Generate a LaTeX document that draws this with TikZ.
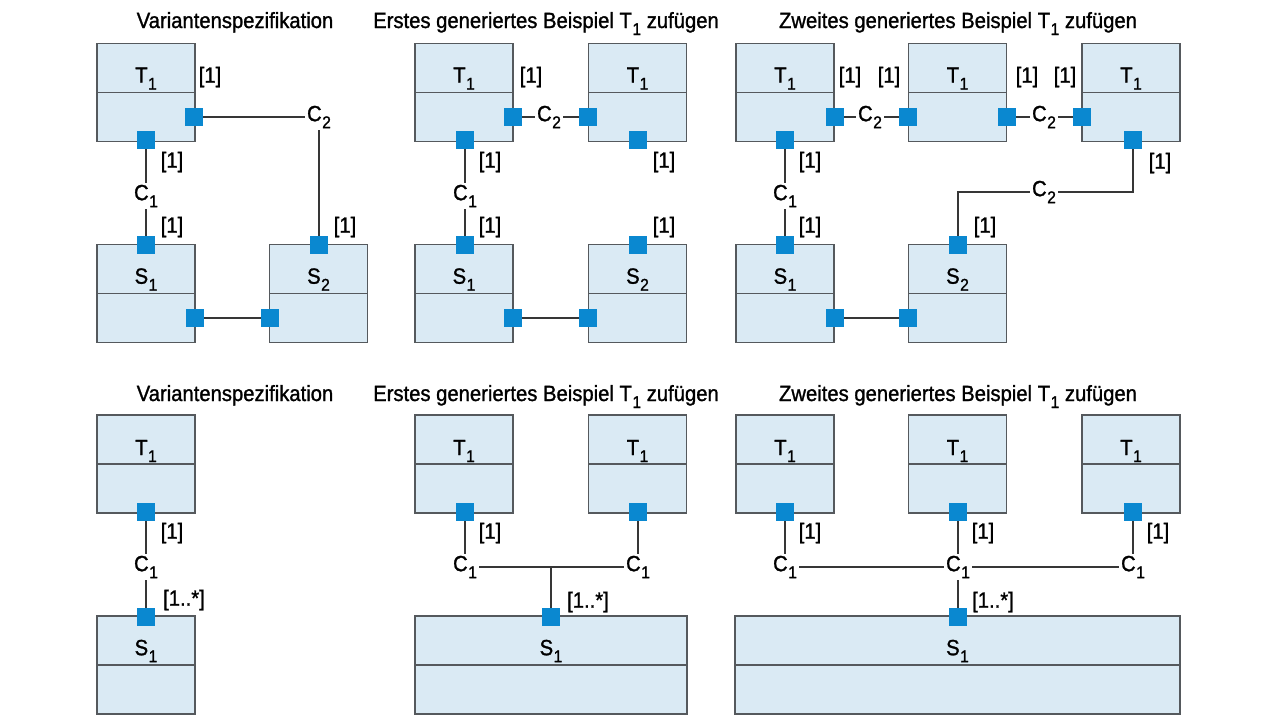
\documentclass[tikz,border=0pt]{standalone}
\usepackage{fontspec}
\setmainfont{Liberation Sans}[FakeStretch=0.92, FakeBold=1.2]
\usetikzlibrary{positioning}

\definecolor{boxfill}{HTML}{DAEAF4}
\definecolor{boxline}{HTML}{55595D}
\definecolor{portblue}{HTML}{0A88D0}
\definecolor{wirec}{HTML}{363636}
\newcommand{\ix}[2]{#1\kern0.5pt\raisebox{-7pt}{\fontsize{17}{17}\selectfont #2}}

\tikzset{
  klasse/.style={draw=boxline, fill=boxfill, line width=1.7pt,
    minimum width=98pt, minimum height=98pt, inner sep=0pt,
    path picture={\draw[boxline, line width=1.7pt] (path picture bounding box.west) -- (path picture bounding box.east);}},
  port/.style={fill=portblue, minimum size=18pt, inner sep=0pt},
  wire/.style={draw=wirec, line width=1.8pt},
  cname/.style={inner sep=2pt},
  mult/.style={inner sep=1pt},
  titel/.style={inner sep=0pt, anchor=base}
}

\begin{document}
\begin{tikzpicture}[x=1pt, y=-1pt, font=\fontsize{22}{26}\selectfont]
	\useasboundingbox (0,0) rectangle (1280,721);
	
	% ----- oben: Variantenspezifikation -----
	\node[titel] (a-title) at (235,28) {Variantenspezifikation};
	\node[klasse, label={[yshift=14pt]center:\ix{T}{1}}] (a-t1) at (146,92.5) {};
	\node[klasse, label={[yshift=14pt]center:\ix{S}{1}}] (a-s1) at (146,293.5) {};
	\node[klasse, label={[yshift=14pt]center:\ix{S}{2}}] (a-s2) at (318.5,293.5) {};
	
	% Ports
	\node[port] (a-t1r) at (194,117) {};
	\node[port] (a-t1b) at (146,140) {};
	\node[port] (a-s1t) at (146,245) {};
	\node[port] (a-s1r) at (195,318) {};
	\node[port] (a-s2l) at (270,318) {};
	\node[port] (a-s2t) at (319,245) {};
	
	% Verbindungen
	\node[cname] (a-c1) at (146,196) {\ix{C}{1}};
	\node[cname] (a-c2) at (319,117) {\ix{C}{2}};
	\draw[wire] (a-t1r) -- (a-c2) -- (a-s2t);
	\draw[wire] (a-t1b) -- (a-c1) -- (a-s1t);
	\draw[wire] (a-s1r) -- (a-s2l);
	
	% Multiplizitaeten
	\node[mult] (a-m1) at (210,77) {[1]};
	\node[mult] (a-m2) at (172,162) {[1]};
	\node[mult] (a-m3) at (172,227) {[1]};
	\node[mult] (a-m4) at (345,227) {[1]};
	
	% ----- oben: Erstes generiertes Beispiel -----
	\node[titel] (b-title) at (546,28) {Erstes generiertes Beispiel \ix{T}{1} zufügen};
	\node[klasse, label={[yshift=14pt]center:\ix{T}{1}}] (b-t1a) at (464,92.5) {};
	\node[klasse, label={[yshift=14pt]center:\ix{T}{1}}] (b-t1b) at (637.5,92.5) {};
	\node[klasse, label={[yshift=14pt]center:\ix{S}{1}}] (b-s1) at (464,293.5) {};
	\node[klasse, label={[yshift=14pt]center:\ix{S}{2}}] (b-s2) at (637.5,293.5) {};
	
	% Ports
	\node[port] (b-t1ar) at (513,117) {};
	\node[port] (b-t1ab) at (465,140) {};
	\node[port] (b-t1bl) at (588,117) {};
	\node[port] (b-t1bb) at (638,140) {};
	\node[port] (b-s1t) at (465,245) {};
	\node[port] (b-s1r) at (513,318) {};
	\node[port] (b-s2l) at (588,318) {};
	\node[port] (b-s2t) at (638,245) {};
	
	% Verbindungen
	\node[cname] (b-c1) at (465,196) {\ix{C}{1}};
	\node[cname] (b-c2) at (549,117) {\ix{C}{2}};
	\draw[wire] (b-t1ar) -- (b-c2) -- (b-t1bl);
	\draw[wire] (b-t1ab) -- (b-c1) -- (b-s1t);
	\draw[wire] (b-s1r) -- (b-s2l);
	
	% Multiplizitaeten
	\node[mult] (b-m1) at (531,77) {[1]};
	\node[mult] (b-m2) at (490,162) {[1]};
	\node[mult] (b-m3) at (490,227) {[1]};
	\node[mult] (b-m4) at (664,162) {[1]};
	\node[mult] (b-m5) at (664,227) {[1]};
	
	% ----- oben: Zweites generiertes Beispiel -----
	\node[titel] (c-title) at (958,28) {Zweites generiertes Beispiel \ix{T}{1} zufügen};
	\node[klasse, label={[yshift=14pt]center:\ix{T}{1}}] (c-t1a) at (785,92.5) {};
	\node[klasse, label={[yshift=14pt]center:\ix{T}{1}}] (c-t1b) at (957.5,92.5) {};
	\node[klasse, label={[yshift=14pt]center:\ix{T}{1}}] (c-t1c) at (1131,92.5) {};
	\node[klasse, label={[yshift=14pt]center:\ix{S}{1}}] (c-s1) at (785,293.5) {};
	\node[klasse, label={[yshift=14pt]center:\ix{S}{2}}] (c-s2) at (957.5,293.5) {};
	
	% Ports
	\node[port] (c-t1ar) at (835,117) {};
	\node[port] (c-t1ab) at (785,140) {};
	\node[port] (c-t1bl) at (908,117) {};
	\node[port] (c-t1br) at (1007,117) {};
	\node[port] (c-t1cl) at (1082,117) {};
	\node[port] (c-t1cb) at (1133,140) {};
	\node[port] (c-s1t) at (785,245) {};
	\node[port] (c-s1r) at (835,318) {};
	\node[port] (c-s2l) at (908,318) {};
	\node[port] (c-s2t) at (958,245) {};
	
	% Verbindungen
	\node[cname] (c-c1) at (785,196) {\ix{C}{1}};
	\node[cname] (c-c2a) at (870,117) {\ix{C}{2}};
	\node[cname] (c-c2b) at (1044,117) {\ix{C}{2}};
	\node[cname] (c-c2c) at (1044,192) {\ix{C}{2}};
	\draw[wire] (c-t1ar) -- (c-c2a) -- (c-t1bl);
	\draw[wire] (c-t1br) -- (c-c2b) -- (c-t1cl);
	\draw[wire] (c-t1cb) |- (c-c2c);
	\draw[wire] (c-c2c) -| (c-s2t);
	\draw[wire] (c-t1ab) -- (c-c1) -- (c-s1t);
	\draw[wire] (c-s1r) -- (c-s2l);
	
	% Multiplizitaeten
	\node[mult] (c-m1) at (850,77) {[1]};
	\node[mult] (c-m2) at (889,77) {[1]};
	\node[mult] (c-m3) at (1027,77) {[1]};
	\node[mult] (c-m4) at (1065,77) {[1]};
	\node[mult] (c-m5) at (810,162) {[1]};
	\node[mult] (c-m6) at (810,227) {[1]};
	\node[mult] (c-m7) at (1160,163) {[1]};
	\node[mult] (c-m8) at (985,227) {[1]};
	
	% ----- unten: Variantenspezifikation -----
	\node[titel] (d-title) at (235,401) {Variantenspezifikation};
	\node[klasse, label={[yshift=13pt]center:\ix{T}{1}}] (d-t1) at (146,464) {};
	\node[klasse, label={[yshift=14pt]center:\ix{S}{1}}] (d-s1) at (146,665) {};
	\node[port] (d-t1b) at (146,512) {};
	\node[port] (d-s1t) at (146,617) {};
	\node[cname] (d-c1) at (146,567) {\ix{C}{1}};
	\draw[wire] (d-t1b) -- (d-c1) -- (d-s1t);
	\node[mult] (d-m1) at (172,533) {[1]};
	\node[mult] (d-m2) at (184,600) {[1..*]};
	
	% ----- unten: Erstes generiertes Beispiel -----
	\node[titel] (e-title) at (546,401) {Erstes generiertes Beispiel \ix{T}{1} zufügen};
	\node[klasse, label={[yshift=13pt]center:\ix{T}{1}}] (e-t1a) at (464,464) {};
	\node[klasse, label={[yshift=13pt]center:\ix{T}{1}}] (e-t1b) at (637.5,464) {};
	\node[klasse, minimum width=272pt, label={[yshift=14pt]center:\ix{S}{1}}] (e-s1) at (551,665) {};
	\node[port] (e-t1ab) at (465,512) {};
	\node[port] (e-t1bb) at (638,512) {};
	\node[port] (e-s1t) at (551,617) {};
	\node[cname] (e-c1a) at (465,567) {\ix{C}{1}};
	\node[cname] (e-c1b) at (638,567) {\ix{C}{1}};
	\coordinate (e-j) at (551,567);
	\draw[wire] (e-t1ab) -- (e-c1a) -- (e-c1b) -- (e-t1bb);
	\draw[wire] (e-j) -- (e-s1t);
	\node[mult] (e-m1) at (490,533) {[1]};
	\node[mult] (e-m2) at (588,602) {[1..*]};
	
	% ----- unten: Zweites generiertes Beispiel -----
	\node[titel] (f-title) at (958,401) {Zweites generiertes Beispiel \ix{T}{1} zufügen};
	\node[klasse, label={[yshift=13pt]center:\ix{T}{1}}] (f-t1a) at (785,464) {};
	\node[klasse, label={[yshift=13pt]center:\ix{T}{1}}] (f-t1b) at (957.5,464) {};
	\node[klasse, label={[yshift=13pt]center:\ix{T}{1}}] (f-t1c) at (1131,464) {};
	\node[klasse, minimum width=445pt, label={[yshift=14pt]center:\ix{S}{1}}] (f-s1) at (957.5,665) {};
	\node[port] (f-t1ab) at (785,512) {};
	\node[port] (f-t1bb) at (958,512) {};
	\node[port] (f-t1cb) at (1133,512) {};
	\node[port] (f-s1t) at (958,617) {};
	\node[cname] (f-c1a) at (785,567) {\ix{C}{1}};
	\node[cname] (f-c1b) at (958,567) {\ix{C}{1}};
	\node[cname] (f-c1c) at (1133,567) {\ix{C}{1}};
	\draw[wire] (f-t1ab) -- (f-c1a) -- (f-c1b) -- (f-c1c) -- (f-t1cb);
	\draw[wire] (f-t1bb) -- (f-c1b) -- (f-s1t);
	\node[mult] (f-m1) at (810,533) {[1]};
	\node[mult] (f-m2) at (983,533) {[1]};
	\node[mult] (f-m3) at (1158,533) {[1]};
	\node[mult] (f-m4) at (993,602) {[1..*]};
	
\end{tikzpicture}
\end{document}
